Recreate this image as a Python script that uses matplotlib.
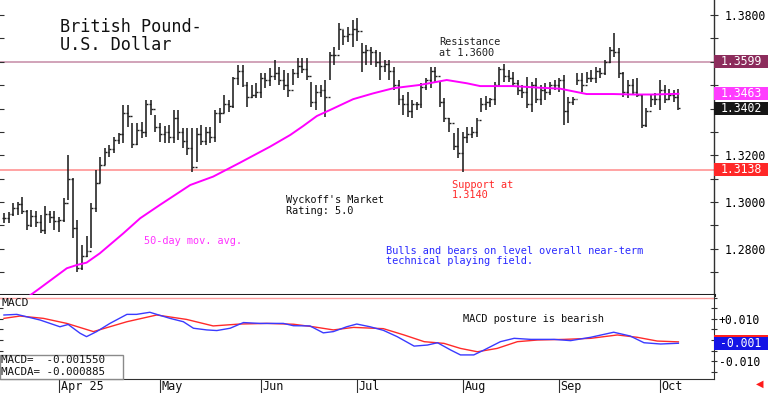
import numpy as np
import pandas as pd
import matplotlib
matplotlib.use('Agg')
import matplotlib.pyplot as plt
from matplotlib.patches import Rectangle
from matplotlib.ticker import MultipleLocator, FixedLocator, FuncFormatter

# ---------------- data ----------------
dates = pd.bdate_range('2025-03-14', '2025-10-07')

highs = [1.2952, 1.2959, 1.2998, 1.3002, 1.3020, 1.2966, 1.2966, 1.2963, 1.2945, 1.2983,
         1.2963, 1.2963, 1.2938, 1.3016, 1.3201, 1.3102, 1.2923, 1.2817, 1.2856, 1.2995,
         1.3137, 1.3194, 1.3230, 1.3244, 1.3280, 1.3297, 1.3415, 1.3415, 1.3337, 1.3340,
         1.3344, 1.3437, 1.3437, 1.3372, 1.3340, 1.3325, 1.3330, 1.3394, 1.3394, 1.3315,
         1.3315, 1.3315, 1.3315, 1.3330, 1.3323, 1.3323, 1.3394, 1.3401, 1.3458, 1.3437,
         1.3536, 1.3586, 1.3586, 1.3515, 1.3501, 1.3508, 1.3551, 1.3553, 1.3572, 1.3608,
         1.3579, 1.3565, 1.3551, 1.3568, 1.3615, 1.3615, 1.3615, 1.3515, 1.3501, 1.3501,
         1.3522, 1.3643, 1.3665, 1.3764, 1.3736, 1.3750, 1.3779, 1.3785, 1.3679, 1.3672,
         1.3665, 1.3651, 1.3643, 1.3608, 1.3608, 1.3579, 1.3522, 1.3458, 1.3472, 1.3437,
         1.3430, 1.3508, 1.3529, 1.3579, 1.3579, 1.3515, 1.3444, 1.3358, 1.3294, 1.3315,
         1.3300, 1.3323, 1.3323, 1.3358, 1.3444, 1.3454, 1.3444, 1.3515, 1.3579, 1.3589,
         1.3565, 1.3558, 1.3522, 1.3501, 1.3536, 1.3515, 1.3529, 1.3501, 1.3508, 1.3515,
         1.3522, 1.3530, 1.3544, 1.3451, 1.3451, 1.3551, 1.3551, 1.3558, 1.3565, 1.3579,
         1.3572, 1.3608, 1.3665, 1.3722, 1.3657, 1.3558, 1.3522, 1.3525, 1.3529, 1.3458,
         1.3401, 1.3458, 1.3465, 1.3522, 1.3501, 1.3482, 1.3479, 1.3482]
lows = [1.2909, 1.2909, 1.2941, 1.2945, 1.2949, 1.2881, 1.2895, 1.2895, 1.2869, 1.2864,
        1.2909, 1.2881, 1.2874, 1.2916, 1.3009, 1.2845, 1.2702, 1.2710, 1.2767, 1.2802,
        1.2959, 1.3080, 1.3159, 1.3194, 1.3208, 1.3248, 1.3251, 1.3323, 1.3230, 1.3244,
        1.3273, 1.3280, 1.3372, 1.3301, 1.3258, 1.3251, 1.3251, 1.3251, 1.3266, 1.3230,
        1.3201, 1.3130, 1.3173, 1.3244, 1.3244, 1.3251, 1.3258, 1.3337, 1.3380, 1.3387,
        1.3401, 1.3501, 1.3494, 1.3408, 1.3444, 1.3444, 1.3444, 1.3486, 1.3496, 1.3522,
        1.3501, 1.3479, 1.3451, 1.3501, 1.3529, 1.3551, 1.3522, 1.3408, 1.3394, 1.3451,
        1.3365, 1.3522, 1.3586, 1.3650, 1.3672, 1.3686, 1.3665, 1.3690, 1.3558, 1.3586,
        1.3586, 1.3579, 1.3522, 1.3558, 1.3522, 1.3479, 1.3415, 1.3372, 1.3365, 1.3358,
        1.3394, 1.3401, 1.3479, 1.3486, 1.3515, 1.3408, 1.3344, 1.3301, 1.3223, 1.3187,
        1.3130, 1.3251, 1.3273, 1.3280, 1.3387, 1.3394, 1.3408, 1.3415, 1.3494, 1.3515,
        1.3515, 1.3494, 1.3458, 1.3444, 1.3401, 1.3387, 1.3422, 1.3415, 1.3437, 1.3458,
        1.3479, 1.3470, 1.3330, 1.3337, 1.3415, 1.3501, 1.3472, 1.3508, 1.3515, 1.3508,
        1.3529, 1.3544, 1.3593, 1.3622, 1.3529, 1.3451, 1.3444, 1.3458, 1.3451, 1.3315,
        1.3323, 1.3408, 1.3415, 1.3394, 1.3422, 1.3437, 1.3430, 1.3394]
closes = [1.2930, 1.2950, 1.2975, 1.2990, 1.2960, 1.2900, 1.2940, 1.2915, 1.2880, 1.2950,
          1.2935, 1.2920, 1.2925, 1.2995, 1.3100, 1.2890, 1.2720, 1.2770, 1.2790, 1.2975,
          1.3080, 1.3160, 1.3215, 1.3225, 1.3265, 1.3290, 1.3380, 1.3370, 1.3250, 1.3310,
          1.3300, 1.3420, 1.3400, 1.3320, 1.3290, 1.3300, 1.3280, 1.3360, 1.3300, 1.3260,
          1.3230, 1.3150, 1.3290, 1.3260, 1.3300, 1.3280, 1.3380, 1.3380, 1.3420, 1.3410,
          1.3530, 1.3560, 1.3500, 1.3450, 1.3460, 1.3470, 1.3530, 1.3520, 1.3540, 1.3550,
          1.3520, 1.3500, 1.3480, 1.3550, 1.3580, 1.3570, 1.3540, 1.3430, 1.3470, 1.3480,
          1.3450, 1.3630, 1.3630, 1.3740, 1.3710, 1.3720, 1.3740, 1.3730, 1.3640, 1.3650,
          1.3640, 1.3600, 1.3580, 1.3590, 1.3560, 1.3500, 1.3440, 1.3420, 1.3390, 1.3420,
          1.3420, 1.3490, 1.3520, 1.3560, 1.3540, 1.3430, 1.3360, 1.3340, 1.3240, 1.3210,
          1.3280, 1.3290, 1.3300, 1.3350, 1.3420, 1.3430, 1.3440, 1.3500, 1.3570, 1.3540,
          1.3530, 1.3510, 1.3480, 1.3470, 1.3420, 1.3500, 1.3440, 1.3480, 1.3470, 1.3500,
          1.3500, 1.3520, 1.3390, 1.3430, 1.3440, 1.3520, 1.3500, 1.3530, 1.3530, 1.3560,
          1.3550, 1.3600, 1.3650, 1.3640, 1.3550, 1.3470, 1.3500, 1.3470, 1.3460, 1.3330,
          1.3390, 1.3440, 1.3440, 1.3480, 1.3440, 1.3460, 1.3450, 1.3402]

# 50-day moving average
ma_idx = [4, 7.5, 13.7, 15.9, 18.0, 20.9, 26.0, 29.7, 34.0, 40.6, 45.6, 51.4, 58.0,
          62.4, 65.2, 68.2, 71.1, 76.1, 80.5, 84.9, 90.7, 96.5, 100.9, 103.8, 111.0,
          116.8, 121.2, 127.0, 132.8, 137.2, 141.5, 147]
ma_val = [1.2577, 1.2627, 1.2717, 1.2731, 1.2741, 1.2781, 1.2866, 1.2931, 1.2988, 1.3073,
          1.3109, 1.3168, 1.3237, 1.3287, 1.3325, 1.3368, 1.3394, 1.3440, 1.3465, 1.3487,
          1.3501, 1.3522, 1.3508, 1.3496, 1.3496, 1.3489, 1.3485, 1.3462, 1.3462, 1.3460,
          1.3460, 1.3463]

# MACD (blue) and MACDA signal (red)
macd_idx = [0, 2.8, 7.9, 12.2, 14.0, 16.6, 18.0, 20.2, 23.1, 26.8, 28.9, 31.8, 33.3,
            36.2, 39.1, 41.3, 44.2, 46.4, 49.3, 52.2, 55.8, 60.9, 63.1, 66.7, 69.6,
            71.8, 74.7, 76.9, 79.8, 82.7, 85.7, 89.4, 92.3, 94.5, 97.4, 99.5, 102.4,
            104.6, 108.2, 111.2, 114.8, 119.9, 123.5, 127.9, 132.9, 136.5, 139.5,
            143.1, 147]
macd_val = [0.0119, 0.0122, 0.0095, 0.0063, 0.0074, 0.0032, 0.0016, 0.0040, 0.0079,
            0.0122, 0.0122, 0.0132, 0.0122, 0.0103, 0.0087, 0.0056, 0.0048, 0.0045,
            0.0056, 0.0083, 0.0079, 0.0079, 0.0068, 0.0067, 0.0034, 0.0040, 0.0063,
            0.0076, 0.0063, 0.0046, 0.0016, -0.0029, -0.0024, -0.0013, -0.0048, -0.0071,
            -0.0071, -0.0048, -0.0008, 0.0008, 0.0003, 0.0003, -0.0003, 0.0013, 0.0037,
            0.0019, -0.0013, -0.0019, -0.00155]
sig_idx = [0, 3.5, 8.6, 13.7, 19.5, 26.8, 33.3, 39.8, 45.6, 51.4, 57.3, 63.1, 67.4,
           71.8, 76.2, 82.7, 87.2, 91.6, 95.9, 99.5, 103.2, 107.5, 111.9, 116.3, 122.1,
           127.9, 133.7, 138.0, 142.4, 147]
sig_val = [0.0103, 0.0114, 0.0103, 0.0079, 0.0040, 0.0087, 0.0119, 0.0098, 0.0067,
           0.0076, 0.0079, 0.0075, 0.0063, 0.0048, 0.0060, 0.0054, 0.0024, -0.0008,
           -0.0016, -0.0040, -0.0056, -0.0040, -0.0008, 0.0000, 0.0003, 0.0008, 0.0024,
           0.0013, -0.0005, -0.000885]

resistance = 1.3599
support = 1.3138
last_ma = 1.3463
last_close = 1.3402
macd_last = -0.001550
macda_last = -0.000885
macd_box_label = '-0.001'
month_labels = ["Apr 25", "May", "Jun", "Jul", "Aug", "Sep", "Oct"]

# ---------------- figure ----------------
W, H = 768, 393
MONO = 'DejaVu Sans Mono'
fig = plt.figure(figsize=(W / 100, H / 100), dpi=100)
fig.patch.set_facecolor('white')


def fx(x):
    return x / W


def fy(y):
    return 1 - y / H


idx = np.arange(len(dates))
opens = [closes[0]] + closes[:-1]
XL = (-0.86, 154.76)

# main price panel
ax = fig.add_axes([0, fy(295), fx(714), 295 / H])
ax.set_xlim(*XL)
ylo, yhi = 1.26027, 1.38641
ax.set_ylim(ylo, yhi)
ax.axhline(resistance, color='#c58aa6', lw=1.1, zorder=1)
ax.axhline(support, color='#ff8a8a', lw=1.1, zorder=1)
bar_c = '#1e1e1e'
ax.vlines(idx, lows, highs, color=bar_c, lw=1.15, zorder=3)
ax.hlines(closes, idx, idx + 0.42, color=bar_c, lw=1.0, zorder=3)
ax.hlines(opens, idx - 0.42, idx, color=bar_c, lw=1.0, zorder=3)
ax.plot(ma_idx, ma_val, color='#ff00ff', lw=1.4, zorder=4)

for s in ['top', 'left']:
    ax.spines[s].set_visible(False)
ax.spines['bottom'].set_linewidth(2.2)
ax.spines['bottom'].set_color('#202020')
ax.spines['right'].set_color('#303030')
ax.spines['right'].set_linewidth(1.0)
ax.set_xticks([])
hidden = [1.34, 1.36]   # these labels sit under the value boxes


def price_fmt(v, pos):
    if any(abs(v - h) < 1e-6 for h in hidden):
        return ''
    return f'{v:.4f}'


ax.yaxis.set_major_locator(MultipleLocator(0.02))
ax.yaxis.set_minor_locator(MultipleLocator(0.01))
ax.yaxis.set_major_formatter(FuncFormatter(price_fmt))
ax.tick_params(axis='y', which='both', left=True, right=True, labelleft=False,
               labelright=True, direction='inout', length=6, width=0.8,
               color='#303030', pad=5, labelsize=8.3)
for lab in ax.get_yticklabels():
    lab.set_family(MONO)

# right-side value boxes (price panel)
ytr = ax.get_yaxis_transform()
hbox = 13 * (yhi - ylo) / 295
for val, col in [(resistance, '#8c2c5c'), (last_ma, '#ff3cff'),
                 (last_close, '#161616'), (support, '#ff2828')]:
    ax.add_patch(Rectangle((1.0, val - hbox / 2), 54 / 714, hbox, transform=ytr,
                           facecolor=col, edgecolor='none', clip_on=False, zorder=10))
    ax.text(1.0 + 27 / 714, val, f'{val:.4f}', transform=ytr, ha='center', va='center',
            color='white', fontsize=8.3, family=MONO, zorder=11, clip_on=False)

# MACD panel
ax2 = fig.add_axes([0, fy(379), fx(714), 84 / H])
ax2.set_xlim(*XL)
mlo, mhi = -0.01856, 0.02142
ax2.set_ylim(mlo, mhi)
ax2.axhline(0.01985, color='#ff9c9c', lw=1.0)
ax2.plot(macd_idx, macd_val, color='#3a3aff', lw=1.0, zorder=3)
ax2.plot(sig_idx, sig_val, color='#ff2a2a', lw=1.0, zorder=2)
for s in ['top', 'left']:
    ax2.spines[s].set_visible(False)
ax2.spines['right'].set_color('#303030')
ax2.spines['bottom'].set_color('#303030')
ax2.yaxis.set_major_locator(FixedLocator([-0.01, 0.0, 0.01]))
ax2.yaxis.set_minor_locator(MultipleLocator(0.005))
ax2.set_yticklabels(['-0.010', '', '+0.010'])
ax2.tick_params(axis='y', which='both', left=True, right=True, labelleft=False,
                labelright=True, direction='inout', length=5, width=0.8,
                color='#303030', pad=1, labelsize=8.3)
for lab in ax2.get_yticklabels():
    lab.set_family(MONO)

# month ticks
month_pos = []
seen = set()
for i, d in enumerate(dates):
    key = (d.year, d.month)
    if key not in seen:
        seen.add(key)
        if i > 0:
            month_pos.append(i)
ax2.set_xticks(month_pos)
ax2.set_xticklabels([])
ax2.tick_params(axis='x', direction='out', length=11, width=0.8, color='#303030')
xtr = ax2.get_xaxis_transform()
for p, lab in zip(month_pos, month_labels):
    ax2.text(p + 0.35, -0.085, lab, transform=xtr, ha='left', va='center',
             fontsize=8.5, family=MONO, color='#111111', clip_on=False)

# MACD value boxes (red signal box mostly hidden behind the blue one)
ytr2 = ax2.get_yaxis_transform()
hb2 = 13 * (mhi - mlo) / 84
ax2.add_patch(Rectangle((1.0, macda_last - hb2 / 2), 54 / 714, hb2, transform=ytr2,
                        facecolor='#ff2020', edgecolor='none', clip_on=False, zorder=10))
ax2.add_patch(Rectangle((1.0, macd_last - hb2 / 2), 54 / 714, hb2, transform=ytr2,
                        facecolor='#1414e6', edgecolor='none', clip_on=False, zorder=11))
ax2.text(1.0 + 27 / 714, macd_last, macd_box_label, transform=ytr2, ha='center',
         va='center', color='white', fontsize=8.3, family=MONO, zorder=12, clip_on=False)

# MACD readout box
fig.add_artist(Rectangle((0, fy(379)), 123 / W, (379 - 354.5) / H, transform=fig.transFigure,
                         facecolor='white', edgecolor='#8a8a8a', lw=1.0, zorder=20))
fig.text(fx(1), fy(360.3), f'MACD=  {macd_last:.6f}', ha='left', va='center',
         fontsize=7.8, family=MONO, color='#111111', zorder=21)
fig.text(fx(1), fy(372.0), f'MACDA= {macda_last:.6f}', ha='left', va='center',
         fontsize=7.8, family=MONO, color='#111111', zorder=21)
fig.text(fx(2), fy(302.5), 'MACD', ha='left', va='center', fontsize=8.2,
         family=MONO, color='#111111')

# annotations


def lines(x, ys, texts, **kw):
    for y, t in zip(ys, texts):
        fig.text(fx(x), fy(y), t, ha='left', va='center', family=MONO, **kw)


lines(60, [27, 44.5], ['British Pound-', 'U.S. Dollar'], fontsize=12.2, color='#111111')
lines(439, [42.3, 52.5], ['Resistance', 'at 1.3600'], fontsize=7.4, color='#222222')
lines(451.5, [185, 195], ['Support at', '1.3140'], fontsize=7.4, color='#ff2a2a')
lines(285.5, [200, 210.7], ["Wyckoff's Market", 'Rating: 5.0'], fontsize=7.4,
      color='#111111')
lines(144, [241], ['50-day mov. avg.'], fontsize=7.4, color='#ff33ff')
lines(386.5, [250.7, 261], ['Bulls and bears on level overall near-term',
                            'technical playing field.'], fontsize=7.4, color='#2a2aff')
lines(463, [319], ['MACD posture is bearish'], fontsize=7.4, color='#111111')
fig.text(fx(760), fy(383.5), '\u25c0', ha='center', va='center', fontsize=7,
         color='#ff1a1a', family='DejaVu Sans')

fig.savefig('out.png', dpi=100, facecolor='white')
